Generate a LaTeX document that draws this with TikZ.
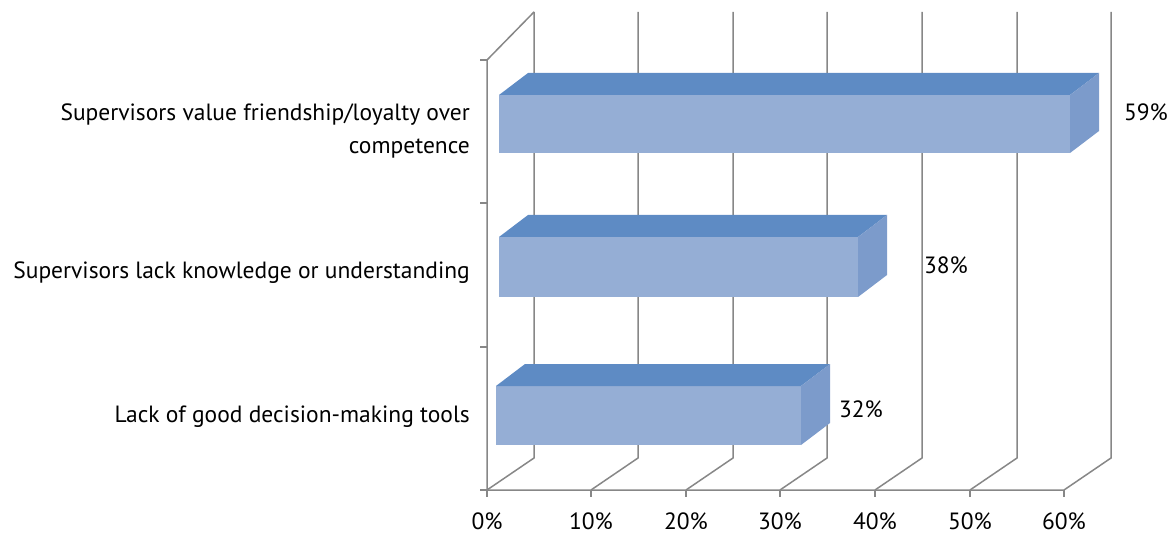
\documentclass[tikz,border=0pt]{standalone}
\usepackage{fontspec}
\setmainfont{PT Sans}
\definecolor{gridgray}{HTML}{878787}
\definecolor{barfront}{HTML}{95AED5}
\definecolor{bartop}{HTML}{5E8BC4}
\definecolor{barside}{HTML}{7C9BCB}
\begin{document}
\begin{tikzpicture}[x=1pt,y=-1pt,
  gridline/.style={draw=gridgray,line width=1.5pt},
  lbl/.style={font=\fontsize{23.5}{33}\selectfont,inner sep=0pt},
  catlbl/.style={lbl,anchor=east,align=right},
  front/.style={fill=barfront},
  topface/.style={fill=bartop},
  sideface/.style={fill=barside}]
\useasboundingbox (0,0) rectangle (1169,534);
% back wall verticals and floor diagonals
\foreach \fx/\bx in {487/534,591/638,686/733,780/827,875/922,970/1017,1064/1111}{
  \draw[gridline] (\fx,490) -- (\bx,458) -- (\bx,12);
  \draw[gridline] (\fx,490) -- (\fx,497);
}
% left wall
\draw[gridline] (534,12) -- (487,60) -- (487,490) -- (1064,490);
\foreach \ty in {60,203,347,490}{
  \draw[gridline] (480,\ty) -- (487,\ty);
}
% bars: left, right, top, bottom
\foreach \l/\r/\t/\b in {499/1070/95/153, 499/858/237/297, 496/801/386/445}{
  \fill[front] (\l,\t) rectangle (\r,\b);
  \fill[topface] (\l,\t) -- (\l+29,\t-22) -- (\r+29,\t-22) -- (\r,\t) -- cycle;
  \fill[sideface] (\r,\t) -- (\r+29,\t-22) -- (\r+29,\b-22) -- (\r,\b) -- cycle;
}
% value labels
\node[lbl] (v1) at (1146,112) {59\%};
\node[lbl] (v2) at (946,265) {38\%};
\node[lbl] (v3) at (861,409) {32\%};
% category labels
\node[catlbl] (c1) at (470,131) {Supervisors value friendship/loyalty over\\competence};
\node[catlbl] (c2) at (470,273) {Supervisors lack knowledge or understanding};
\node[catlbl] (c3) at (470,417) {Lack of good decision-making tools};
% axis labels
\foreach \x/\t [count=\i] in {487/0,591/10,686/20,780/30,875/40,970/50,1064/60}{
  \node[lbl,anchor=base] (a\i) at (\x,529) {\t\%};
}
\end{tikzpicture}
\end{document}
